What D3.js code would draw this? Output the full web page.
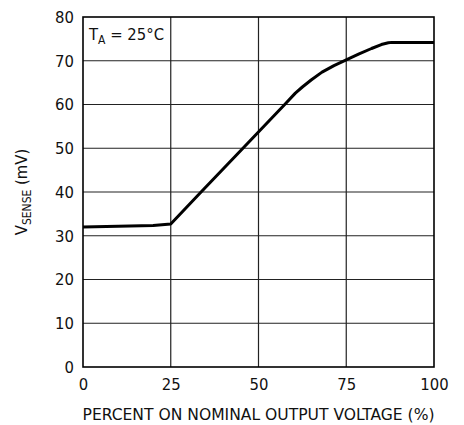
<!DOCTYPE html>
<html>
<head>
<meta charset="utf-8">
<script src="https://cdn.jsdelivr.net/npm/d3@7"></script>
<style>
  body { margin: 0; background: #fff; }
  text { font-family: "DejaVu Sans Condensed", "Liberation Sans", sans-serif; fill: #111; }
</style>
</head>
<body>
<div id="chart"></div>
<script>
// curve: percent of nominal output vs sense voltage
var percent = [0, 10, 20, 25, 33.3, 45.7, 57.6, 60.5, 62.5, 65, 68.1, 71.5, 75, 78.5, 82.2, 85, 87, 88, 100];
var vsense  = [32.0, 32.15, 32.35, 32.7, 39.7, 50.1, 60.1, 62.6, 64.0, 65.6, 67.4, 68.9, 70.2, 71.5, 72.8, 73.7, 74.1, 74.2, 74.2];

var xTicks = [0, 25, 50, 75, 100];
var yTicks = [0, 10, 20, 30, 40, 50, 60, 70, 80];

var W = 464, H = 425;
var margin = {left: 83, right: 30, top: 17, bottom: 58};
var width = W - margin.left - margin.right;
var height = H - margin.top - margin.bottom;

var svg = d3.select('#chart').append('svg')
  .attr('width', W)
  .attr('height', H);

var g = svg.append('g')
  .attr('transform', 'translate(' + margin.left + ',' + margin.top + ')');

var x = d3.scaleLinear().domain([0, 100]).range([0, width]);
var y = d3.scaleLinear().domain([0, 80]).range([height, 0]);

// grid
g.selectAll('.vgrid').data(xTicks.slice(1, -1)).enter()
  .append('line')
  .attr('class', 'vgrid')
  .attr('x1', function(d){ return x(d); })
  .attr('x2', function(d){ return x(d); })
  .attr('y1', 0).attr('y2', height)
  .attr('stroke', '#222').attr('stroke-width', 1.2);

g.selectAll('.hgrid').data(yTicks.slice(1, -1)).enter()
  .append('line')
  .attr('class', 'hgrid')
  .attr('y1', function(d){ return y(d); })
  .attr('y2', function(d){ return y(d); })
  .attr('x1', 0).attr('x2', width)
  .attr('stroke', '#222').attr('stroke-width', 1.2);

// frame
g.append('rect')
  .attr('width', width).attr('height', height)
  .attr('fill', 'none').attr('stroke', '#000').attr('stroke-width', 1.6);

// axes (labels only)
var xAxis = g.append('g')
  .attr('transform', 'translate(0,' + height + ')')
  .call(d3.axisBottom(x).tickValues(xTicks).tickSize(0).tickPadding(11));
var yAxis = g.append('g')
  .call(d3.axisLeft(y).tickValues(yTicks).tickSize(0).tickPadding(9));
[xAxis, yAxis].forEach(function(a){
  a.select('.domain').remove();
  a.selectAll('text').style('font-size', '16.5px')
    .style('font-family', '"DejaVu Sans Condensed", "Liberation Sans", sans-serif').attr('fill', '#111');
});

// curve
var line = d3.line()
  .x(function(d, i){ return x(percent[i]); })
  .y(function(d){ return y(d); });

g.append('path')
  .datum(vsense)
  .attr('d', line)
  .attr('fill', 'none')
  .attr('stroke', '#000')
  .attr('stroke-width', 3)
  .attr('stroke-linejoin', 'round');

// T_A label
var ta = g.append('text')
  .attr('x', 6).attr('y', 23)
  .style('font-size', '16.5px');
ta.append('tspan').text('T');
ta.append('tspan').attr('dy', 4).style('font-size', '12px').text('A');
ta.append('tspan').attr('dy', -4).text(' = 25°C');

// axis titles
svg.append('text')
  .attr('x', margin.left + width / 2)
  .attr('y', 420)
  .attr('text-anchor', 'middle')
  .attr('textLength', 352)
  .attr('lengthAdjust', 'spacingAndGlyphs')
  .style('font-size', '16.5px')
  .text('PERCENT ON NOMINAL OUTPUT VOLTAGE (%)');

var yt = svg.append('text')
  .attr('transform', 'translate(27,' + (margin.top + height / 2) + ') rotate(-90)')
  .attr('text-anchor', 'middle')
  .style('font-size', '16.5px');
yt.append('tspan').text('V');
yt.append('tspan').attr('dy', 4).style('font-size', '12px').text('SENSE');
yt.append('tspan').attr('dy', -4).text(' (mV)');
</script>
</body>
</html>
